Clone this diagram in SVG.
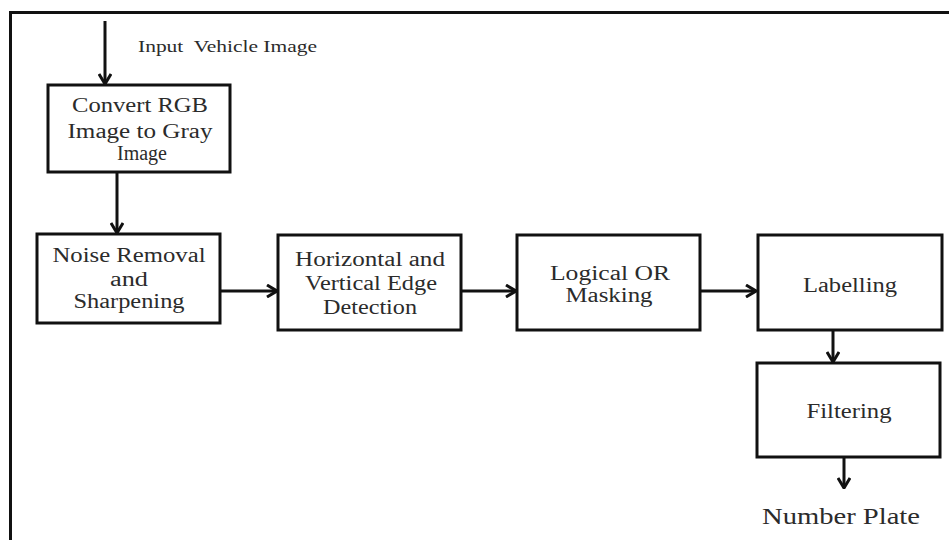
<svg xmlns="http://www.w3.org/2000/svg" width="949" height="540" viewBox="0 0 949 540">
<style>
.box{fill:#fff;stroke:#111;stroke-width:3}
.ln{fill:none;stroke:#111;stroke-width:3}
.t{font-family:"Liberation Serif","Times New Roman",serif;font-size:20px;fill:#2b2b2b;text-anchor:middle}
</style>
<defs>
<marker id="ah" viewBox="0 0 12 14" refX="11" refY="7" markerWidth="12" markerHeight="14" markerUnits="userSpaceOnUse" orient="auto">
<path d="M1,1 L11,7 L1,13" fill="none" stroke="#111" stroke-width="3"/>
</marker>
</defs>
<rect width="949" height="540" fill="#fff"/>
<g id="frame">
<path class="ln" d="M10.5,540 L10.5,12.5 L949,12.5"/>
</g>
<g id="connectors">
<line class="ln" x1="105" y1="21" x2="105" y2="84" marker-end="url(#ah)"/>
<line class="ln" x1="117" y1="172" x2="117" y2="233" marker-end="url(#ah)"/>
<line class="ln" x1="220" y1="291" x2="277" y2="291" marker-end="url(#ah)"/>
<line class="ln" x1="461" y1="291" x2="516" y2="291" marker-end="url(#ah)"/>
<line class="ln" x1="700" y1="291" x2="756" y2="291" marker-end="url(#ah)"/>
<line class="ln" x1="833" y1="330" x2="833" y2="362" marker-end="url(#ah)"/>
<line class="ln" x1="844" y1="457" x2="844" y2="488" marker-end="url(#ah)"/>
</g>
<g id="input-label">
<text class="t" style="font-size:16px;text-anchor:start;white-space:pre" x="138" y="52" textLength="179" lengthAdjust="spacingAndGlyphs">Input  Vehicle Image</text>
</g>
<g id="convert">
<rect class="box" x="48" y="85" width="182" height="87"/>
<text class="t" x="140" y="112" textLength="136" lengthAdjust="spacingAndGlyphs">Convert RGB</text>
<text class="t" x="140" y="138" textLength="145" lengthAdjust="spacingAndGlyphs">Image to Gray</text>
<text class="t" x="142" y="160" textLength="50" lengthAdjust="spacingAndGlyphs">Image</text>
</g>
<g id="noise">
<rect class="box" x="37" y="234" width="183" height="89"/>
<text class="t" x="129" y="262" textLength="153" lengthAdjust="spacingAndGlyphs">Noise Removal</text>
<text class="t" x="129" y="286" textLength="38" lengthAdjust="spacingAndGlyphs">and</text>
<text class="t" x="129" y="308" textLength="111" lengthAdjust="spacingAndGlyphs">Sharpening</text>
</g>
<g id="edge">
<rect class="box" x="278" y="235" width="183" height="95"/>
<text class="t" x="370" y="266" textLength="150" lengthAdjust="spacingAndGlyphs">Horizontal and</text>
<text class="t" x="371" y="290" textLength="132" lengthAdjust="spacingAndGlyphs">Vertical Edge</text>
<text class="t" x="370" y="314" textLength="94" lengthAdjust="spacingAndGlyphs">Detection</text>
</g>
<g id="logical">
<rect class="box" x="517" y="235" width="183" height="95"/>
<text class="t" x="610" y="280" textLength="120" lengthAdjust="spacingAndGlyphs">Logical OR</text>
<text class="t" x="609" y="302" textLength="87" lengthAdjust="spacingAndGlyphs">Masking</text>
</g>
<g id="labelling">
<rect class="box" x="758" y="235" width="184" height="95"/>
<text class="t" x="850" y="292" textLength="94" lengthAdjust="spacingAndGlyphs">Labelling</text>
</g>
<g id="filtering">
<rect class="box" x="757" y="363" width="183" height="94"/>
<text class="t" x="849" y="418" textLength="85" lengthAdjust="spacingAndGlyphs">Filtering</text>
</g>
<g id="output-label">
<text class="t" style="font-size:23px" x="841" y="524" textLength="158" lengthAdjust="spacingAndGlyphs">Number Plate</text>
</g>
</svg>
